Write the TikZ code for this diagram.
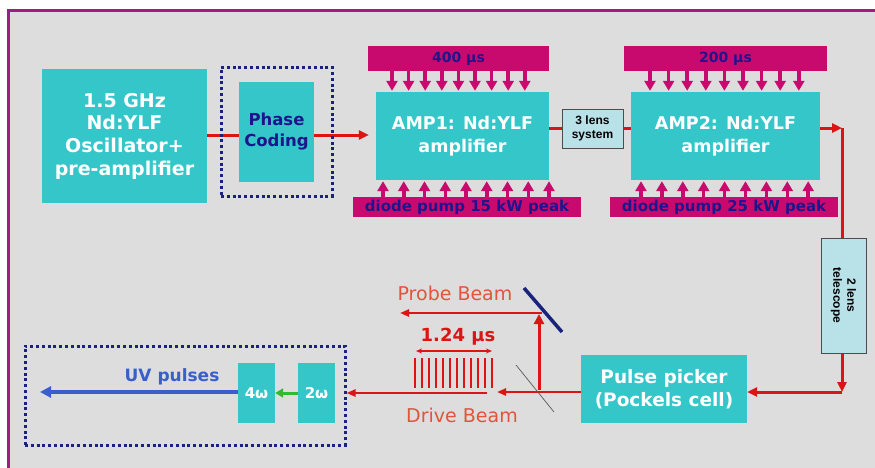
\documentclass[tikz,border=0pt]{standalone}
\usepackage{fontspec}
\setmainfont{DejaVu Sans}
\newfontfamily\lib{Liberation Sans}
\usetikzlibrary{arrows.meta,calc}
\pgfdeclarelayer{bg}
\pgfsetlayers{bg,main}
\definecolor{tealc}{RGB}{52,198,200}
\definecolor{pumpc}{RGB}{200,10,110}
\definecolor{navyc}{RGB}{30,20,140}
\definecolor{dotc}{RGB}{25,35,125}
\definecolor{redc}{RGB}{220,20,20}
\definecolor{beamtxt}{RGB}{225,85,60}
\definecolor{framec}{RGB}{165,25,135}
\definecolor{bgc}{RGB}{221,221,221}
\definecolor{lensc}{RGB}{185,225,232}
\definecolor{greenc}{RGB}{50,185,50}
\definecolor{bluec}{RGB}{58,95,205}
\tikzset{
  tbox/.style={fill=tealc, draw=none, inner sep=0pt, align=center, text=white},
  pumpbar/.style={fill=pumpc, draw=none, inner sep=0pt, text=navyc, font=\fontsize{14}{16}\selectfont\bfseries},
  pump/.style={draw=pumpc, line width=3.5pt, -{Triangle[length=10pt,width=11pt]}},
  lensbox/.style={fill=lensc, draw=black!70, line width=1pt, inner sep=0pt, align=center, font=\lib\fontsize{12}{14}\selectfont\bfseries},
  dotbox/.style={draw=dotc, line width=3pt, dash pattern=on 3pt off 2.8pt, inner sep=0pt},
  beam/.style={draw=redc, line width=3pt},
  beamarrow/.style={beam, -{Triangle[length=10pt,width=9pt]}},
  thinbeam/.style={draw=redc, line width=2.3pt, -{Triangle[length=9pt,width=7pt]}},
  beamlabel/.style={text=beamtxt, font=\fontsize{19}{21}\selectfont, inner sep=0pt},
}
\begin{document}
\begin{tikzpicture}[x=1pt,y=-1pt]
\useasboundingbox (0,0) rectangle (875,467);
\begin{pgfonlayer}{bg}
\fill[white] (0,0) rectangle (875,467);
\fill[bgc] (8,10) rectangle (885,480);
\end{pgfonlayer}
\draw[framec, line width=3pt] (8,10) rectangle (885,480);

% top row
\node[tbox, minimum width=165pt, minimum height=134pt, font=\fontsize{19}{22.7}\selectfont\bfseries] (osc) at (124.5,136) {1.5 GHz\\Nd:YLF\\Oscillator+\\pre-amplifier};
\node[tbox, minimum width=75pt, minimum height=100pt, text=navyc, font=\fontsize{16.5}{21}\selectfont\bfseries] (phase) at (276.5,132) {Phase\\Coding};
\node[dotbox, minimum width=111pt, minimum height=129pt] (phasedot) at (276.5,131.5) {};

\node[tbox, minimum width=173pt, minimum height=88pt, font=\fontsize{17.5}{23}\selectfont\bfseries] (amp1) at (462.5,136) {AMP1: Nd:YLF\\amplifier};
\node[pumpbar, minimum width=181pt, minimum height=25pt] (amp1top) at (458.5,58.5) {400 µs};
\node[pumpbar, minimum width=228pt, minimum height=20pt, font=\fontsize{15}{16}\selectfont\bfseries] (amp1bot) at (467,207) {diode pump 15 kW peak};

\node[lensbox, minimum width=61pt, minimum height=39pt] (lens3) at (592.5,128.5) {3 lens\\system};

\node[tbox, minimum width=189pt, minimum height=88pt, font=\fontsize{17.5}{23}\selectfont\bfseries] (amp2) at (725.5,136) {AMP2: Nd:YLF\\amplifier};
\node[pumpbar, minimum width=203pt, minimum height=25pt] (amp2top) at (725.5,58.5) {200 µs};
\node[pumpbar, minimum width=228pt, minimum height=20pt, font=\fontsize{15}{16}\selectfont\bfseries] (amp2bot) at (724,207) {diode pump 25 kW peak};

\node[lensbox, minimum width=45pt, minimum height=115pt] (tel) at (843.5,295.5) {};
\node[rotate=-90, align=center, font=\lib\fontsize{12}{14}\selectfont\bfseries] (tellabel) at (tel.center) {2 lens\\telescope};

% pump arrows
\foreach \i in {0,...,8}{
  \pgfmathsetmacro\xa{392+16.6*\i}
  \draw[pump] (amp1top.south -| \xa,0) -- ($(amp1.north -| \xa,0)+(0,-1)$);
  \pgfmathsetmacro\xb{383+20.75*\i}
  \draw[pump] (amp1bot.north -| \xb,0) -- ($(amp1.south -| \xb,0)+(0,1)$);
  \pgfmathsetmacro\xc{650+18.6*\i}
  \draw[pump] (amp2top.south -| \xc,0) -- ($(amp2.north -| \xc,0)+(0,-1)$);
  \pgfmathsetmacro\xd{641+20.9*\i}
  \draw[pump] (amp2bot.north -| \xd,0) -- ($(amp2.south -| \xd,0)+(0,1)$);
}

% main beam
\begin{pgfonlayer}{bg}
\draw[beamarrow] (osc.east |- 0,135) -- ($(amp1.west |- 0,135)+(-7,0)$);
\end{pgfonlayer}
\draw[beam] (amp1.east |- 0,128) -- (lens3.west |- 0,128);
\draw[beam] (lens3.east |- 0,128) -- (amp2.west |- 0,128) ;
\coordinate (c1) at (842,128);
\coordinate (c2) at (842,392);
\draw[beamarrow] (amp2.east |- 0,128) -- (c1);
\draw[beam] (c1) -- (tel.north -| c1);
\draw[beamarrow] (tel.south -| c2) -- (c2);

% bottom row
\node[tbox, minimum width=166pt, minimum height=68pt, font=\fontsize{18.5}{23}\selectfont\bfseries] (pp) at (664,389) {Pulse picker\\(Pockels cell)};
\draw[beamarrow] (c2) -- (pp.east |- c2);

\coordinate (dr1) at (497,392);
\draw[thinbeam] (pp.west |- dr1) -- (dr1);
% beam splitter
\coordinate (bs1) at (516,365);
\coordinate (bs2) at (554,412);
\draw[black!65, line width=0.7pt] (bs1) -- (bs2);
% mirror
\coordinate (m1) at (524,288);
\coordinate (m2) at (562,332);
\draw[dotc, line width=3.5pt] (m1) -- (m2);
\coordinate (pv0) at (539,390);
\coordinate (pv1) at (539,314);
\draw[draw=redc, line width=3pt, -{Triangle[length=10pt,width=10pt]}] (pv0) -- (pv1);
\coordinate (pr0) at (542,313);
\coordinate (pr1) at (400,313);
\draw[thinbeam] (pr0) -- (pr1);
\node[beamlabel] (probe) at (455,293) {Probe Beam};
\node[beamlabel] (drive) at (462,415) {Drive Beam};

% pulse train
\foreach \i in {0,...,11}{
  \draw[redc, line width=2.3pt] ({415+7*\i},358) -- ({415+7*\i},388);
}
\coordinate (da) at (416,351);
\coordinate (db) at (492,351);
\draw[redc, line width=1.5pt, {Stealth[length=6pt,width=5pt]}-{Stealth[length=6pt,width=5pt]}] (da) -- (db);
\node[text=redc, font=\fontsize{18}{20}\selectfont\bfseries, inner sep=0pt] (dur) at (458,337) {1.24 µs};

% UV section
\node[dotbox, minimum width=320pt, minimum height=99pt] (uvdot) at (185,395.5) {};
\node[tbox, minimum width=37pt, minimum height=60pt, font=\fontsize{15}{17}\selectfont\bfseries] (w2) at (316.5,393) {2ω};
\node[tbox, minimum width=37pt, minimum height=60pt, font=\fontsize{15}{17}\selectfont\bfseries] (w4) at (256.5,393) {4ω};
\coordinate (dr2) at (487,393);
\draw[thinbeam] (dr2) -- (uvdot.east |- dr2);
\draw[draw=greenc, line width=3pt, -{Triangle[length=8pt,width=9pt]}] (w2.west) -- (w4.east);
\coordinate (uvend) at (40,392);
\draw[draw=bluec, line width=3.5pt, -{Triangle[length=11pt,width=11pt]}] (w4.west |- uvend) -- (uvend);
\node[text=bluec, font=\fontsize{17}{20}\selectfont\bfseries, inner sep=0pt] (uvl) at (172,377) {UV pulses};
\end{tikzpicture}
\end{document}
